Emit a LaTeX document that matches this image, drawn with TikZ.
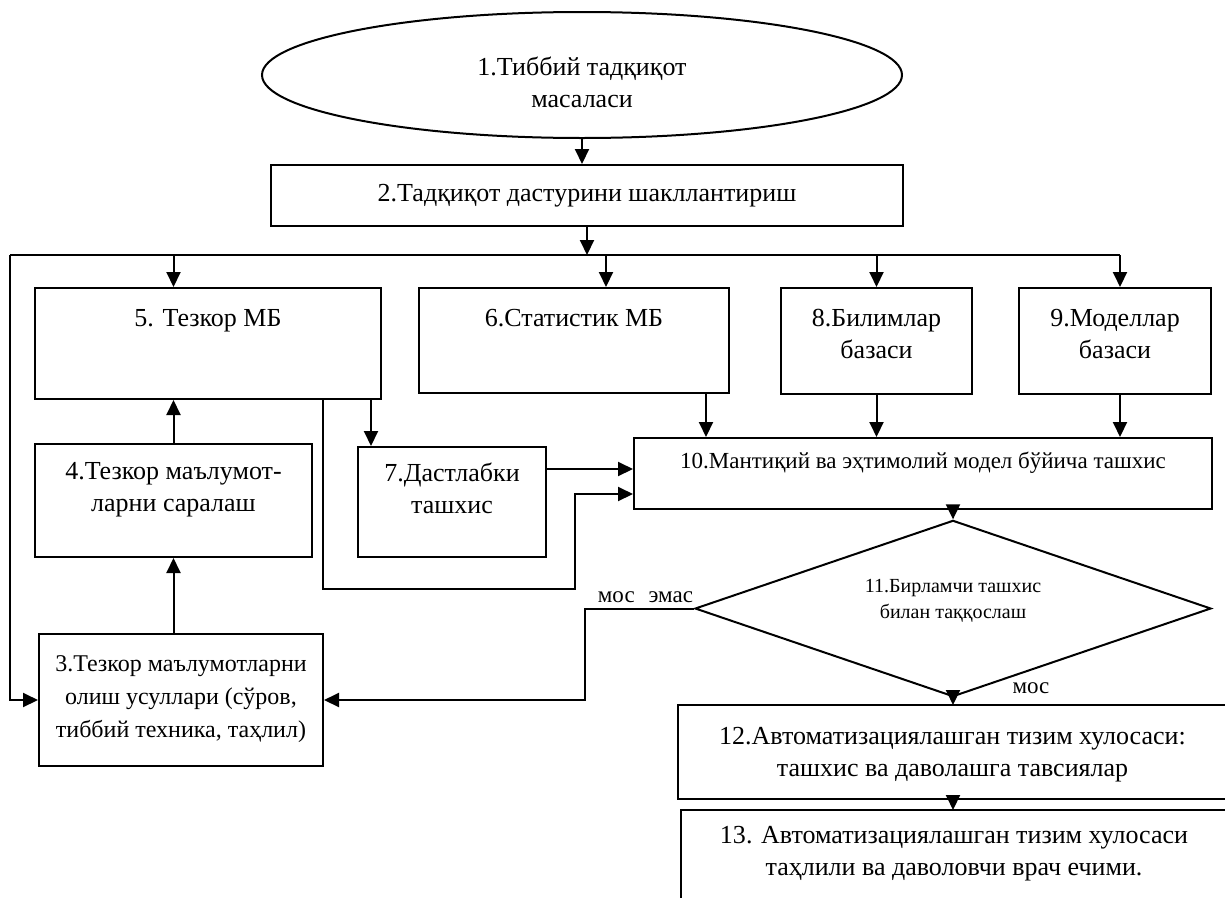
\documentclass[tikz,border=0pt]{standalone}
\usepackage{fontspec}
\setmainfont{Liberation Serif}
\usetikzlibrary{shapes.geometric,arrows.meta,calc}
\newcommand\bxtext[4]{\begin{minipage}[c][#1][t]{#2}\centering\vspace*{#3}\strut #4\end{minipage}}
\begin{document}
\begin{tikzpicture}[x=1pt,y=-1pt,line width=2pt,
  box/.style={draw,inner sep=0pt,anchor=north west},
  openbox/.style={draw=none,inner sep=0pt,anchor=north west},
  arr/.style={-{Triangle[length=15pt,width=14pt]}},
  small/.style={font=\fontsize{20}{26}\selectfont},
  lbl/.style={font=\fontsize{23}{26}\selectfont,inner sep=0pt},
  font=\fontsize{26}{32}\selectfont]
\useasboundingbox (0,0) rectangle (1225,897);

% nodes
\node[ellipse,draw,minimum width=640pt,minimum height=126pt,inner sep=0pt] (e1) at (582,75)
  {\raisebox{-16pt}[0pt][0pt]{\begin{tabular}{@{}c@{}}1.Тиббий тадқиқот\\масаласи\end{tabular}}};
\node[draw,minimum width=632pt,minimum height=61pt,inner sep=0pt,anchor=north west] (b2) at (270,164)
  {2.Тадқиқот дастурини шакллантириш};

\node[box] (b5) at (34,287) {\bxtext{111pt}{346pt}{16pt}{5. Тезкор МБ}};
\node[box] (b6) at (418,287) {\bxtext{105pt}{310pt}{16pt}{6.Статистик МБ}};
\node[box] (b8) at (780,287) {\bxtext{106pt}{191pt}{16pt}{8.Билимлар\\базаси}};
\node[box] (b9) at (1018,287) {\bxtext{106pt}{192pt}{16pt}{9.Моделлар\\базаси}};
\node[box] (b4) at (34,443) {\bxtext{113pt}{277pt}{13pt}{4.Тезкор маълумот-\\ларни саралаш}};
\node[box] (b7) at (357,446) {\bxtext{110pt}{188pt}{12pt}{7.Дастлабки\\ташхис}};
\node[box,font=\fontsize{23}{28}\selectfont] (b10) at (633,437)
  {\bxtext{71pt}{578pt}{11pt}{10.Мантиқий ва эҳтимолий модел бўйича ташхис}};
\node[box,font=\fontsize{24}{33}\selectfont] (b3) at (38,633)
  {\bxtext{132pt}{284pt}{14pt}{3.Тезкор маълумотларни\\олиш усуллари (сўров,\\тиббий техника, таҳлил)}};
\node[diamond,draw,minimum width=516pt,minimum height=161pt,inner sep=0pt,small] (d) at (953,608.5)
  {\raisebox{3pt}[0pt][0pt]{\begin{tabular}{@{}c@{}}11.Бирламчи ташхис\\билан таққослаш\end{tabular}}};
\node[openbox] (b12) at (678,705) {\bxtext{92pt}{547pt}{16pt}{12.Автоматизациялашган тизим хулосаси:\\ташхис ва даволашга тавсиялар}};
\node[openbox] (b13) at (681,810) {\bxtext{87pt}{544pt}{10pt}{13. Автоматизациялашган тизим хулосаси\\таҳлили ва даволовчи врач ечими.}};
\draw (b12.north east) -- (b12.north west) -- (b12.south west) -- (b12.south east);
\draw (b13.north east) -- (b13.north west) -- (b13.south west);

\node[lbl,anchor=base east] (t1) at ([yshift=6pt]d.west) {мос\hspace{0.6em}эмас};
\node[lbl,anchor=base] (t2) at (1031,693) {мос};

% helper coordinates
\coordinate (busL) at (10,255);
\coordinate (busR) at (1120,255);
\coordinate (x6) at (606,0);
\coordinate (x7) at (706,0);
\coordinate (k57) at ([xshift=14pt]b7.north west);
\coordinate (p1) at (0,469);
\coordinate (p2) at (0,494);
\coordinate (m2) at (323,589);
\coordinate (m3) at (575,0);
\coordinate (m1) at (585,0);
\coordinate (x13) at (953,0);

% connectors
\draw[arr] (e1.south) -- (e1.south |- b2.north);
\draw[arr] (b2.south) -- (b2.south |- busL);
\draw (busL) -- (busR);
\draw[arr] (b4.north |- busL) -- (b4.north |- b5.north);
\draw[arr] (x6 |- busL) -- (x6 |- b6.north);
\draw[arr] (b8.north |- busL) -- (b8.north);
\draw[arr] (busR) -- (busR |- b9.north);
\draw[arr] (busL) |- (b3.west);
\draw[arr] (b4.north) -- (b4.north |- b5.south);
\draw[arr] (b4.south |- b3.north) -- (b4.south);
\draw[arr] (k57 |- b5.south) -- (k57);
\draw[arr] (x7 |- b6.south) -- (x7 |- b10.north);
\draw[arr] (b8.south) -- (b8.south |- b10.north);
\draw[arr] (busR |- b9.south) -- (busR |- b10.north);
\draw[arr] (b7.east |- p1) -- (b10.west |- p1);
\draw[arr] (m2 |- b5.south) -- (m2) -| (m3 |- p2) -- (b10.west |- p2);
\draw[arr] (b10.south -| d.north) -- (d.north);
\draw[arr] (d.south) -- (d.south |- b12.north);
\draw[arr] (x13 |- b12.south) -- (x13 |- b13.north);
\draw[arr] (d.west) -- (d.west -| m1) |- (b3.east);
\end{tikzpicture}
\end{document}
